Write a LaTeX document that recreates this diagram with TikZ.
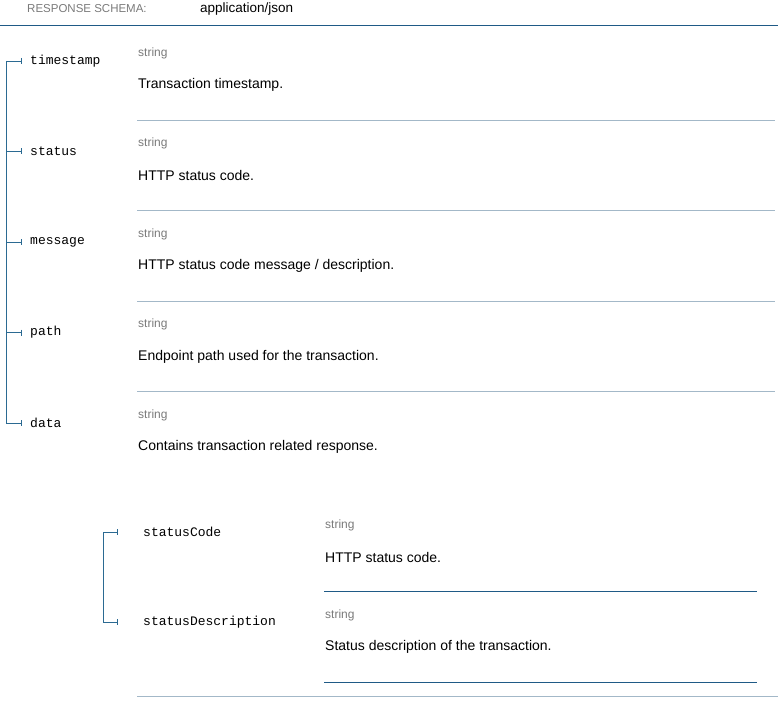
\documentclass[tikz,border=0pt]{standalone}
\usepackage{fontspec}
\setmainfont{Liberation Sans}
\setmonofont{Liberation Mono}
\usetikzlibrary{arrows.meta}
\definecolor{treeblue}{HTML}{2B6A92}
\definecolor{ruleblue}{HTML}{A3B8C8}
\definecolor{darkrule}{HTML}{1F5A86}
\definecolor{typegray}{HTML}{7A7A7A}
\tikzset{
  fieldname/.style={anchor=west,font=\ttfamily\fontsize{13}{15}\selectfont,inner sep=0pt},
  typetag/.style={anchor=west,text=typegray,font=\fontsize{12}{14}\selectfont,inner sep=0pt},
  desctext/.style={anchor=west,font=\fontsize{14}{16}\selectfont,inner sep=0pt},
  branch/.style={draw=treeblue,thick,-{Bar[width=6pt]}}
}
\begin{document}
\begin{tikzpicture}[x=1pt,y=-1pt]
\useasboundingbox (0,0) rectangle (782,706);
% header
\node[typetag,font=\fontsize{11.5}{14}\selectfont] (hdr) at (27,9) {RESPONSE SCHEMA:};
\node[desctext,font=\fontsize{13.5}{16}\selectfont] (mime) at (200,9) {application/json};
\draw[darkrule,thick] (0,25) -- (778,25);
% top level fields
\coordinate (root) at (6,61);
\foreach \name/\desc [count=\i from 0] in {
  timestamp/Transaction timestamp.,
  status/HTTP status code.,
  message/HTTP status code message {/} description.,
  path/Endpoint path used for the transaction.,
  data/Contains transaction related response.}{
  \pgfmathsetmacro{\yy}{61+90.5*\i}
  \node[fieldname] (f\i) at (30,\yy) {\name};
  \node[typetag] (t\i) at (138,\yy-8) {string};
  \node[desctext] (d\i) at (138,\yy+24) {\desc};
  \coordinate (k\i) at (6,\yy);
  \draw[branch] (k\i) -- (22,\yy);
}
\draw[treeblue,thick] (root) -- (k4);
\foreach \i in {0,...,3}
  \draw[ruleblue] (137,120+90.5*\i) -- (775,120+90.5*\i);
% nested fields of data
\node[fieldname] (sc) at (143,532) {statusCode};
\node[typetag] (sct) at (325,525) {string};
\node[desctext] (scd) at (325,557) {HTTP status code.};
\node[fieldname] (sd) at (143,622) {statusDescription};
\node[typetag] (sdt) at (325,615) {string};
\node[desctext] (sdd) at (325,647) {Status description of the transaction.};
\coordinate (nk0) at (103,532);
\coordinate (nk1) at (103,622);
\draw[treeblue,thick] (nk0) -- (nk1);
\draw[branch] (nk0) -- (118,532);
\draw[branch] (nk1) -- (118,622);
\draw[darkrule] (324,591) -- (757,591);
\draw[darkrule] (324,682) -- (757,682);
\draw[ruleblue] (137,696) -- (778,696);
\end{tikzpicture}
\end{document}
